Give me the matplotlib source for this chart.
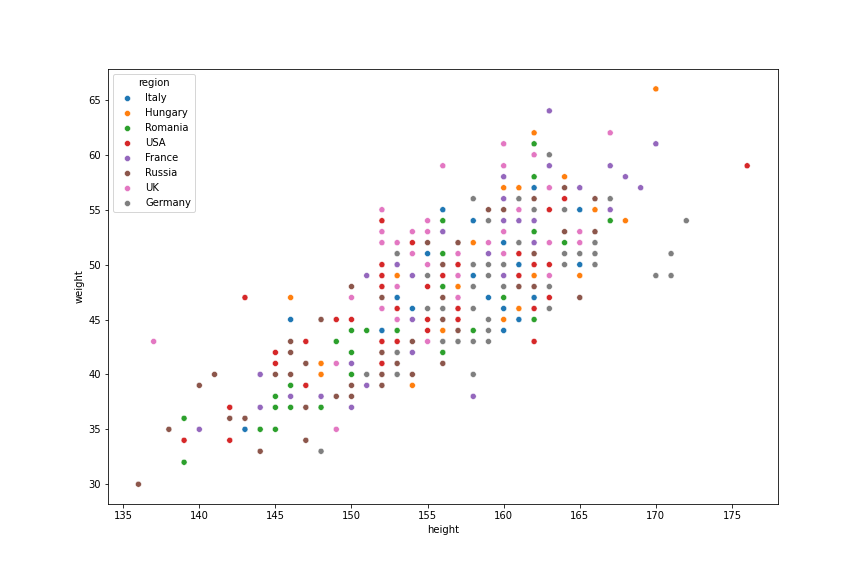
import matplotlib
matplotlib.use("Agg")
import matplotlib.pyplot as plt
import pandas as pd
import seaborn as sns

# (height, weight) points per region
italy = [(146, 45), (143, 35), (153, 47), (154, 46), (152, 44), (155, 51), (156, 55),
         (158, 54), (160, 52), (161, 50), (165, 50), (158, 49), (162, 57), (165, 55),
         (159, 47), (162, 47), (160, 46), (161, 45), (160, 44)]
hungary = [(146, 47), (148, 41), (148, 40), (154, 39), (153, 49), (156, 44), (157, 48),
           (158, 52), (160, 57), (161, 57), (164, 58), (166, 55), (162, 49), (165, 49),
           (161, 46), (160, 45), (162, 62), (170, 66), (168, 54)]
romania = [(139, 36), (139, 32), (145, 38), (145, 37), (146, 39), (146, 37), (144, 35),
           (145, 35), (148, 37), (149, 43), (150, 44), (151, 44), (153, 44), (150, 42),
           (150, 40), (156, 48), (156, 42), (156, 54), (156, 51), (162, 58), (162, 53),
           (164, 52), (167, 54), (160, 47), (162, 45), (158, 44), (162, 61)]
usa = [(143, 47), (147, 43), (145, 42), (145, 41), (147, 39), (142, 37), (142, 34),
       (139, 34), (152, 48), (155, 48), (153, 46), (157, 46), (149, 45), (150, 45),
       (155, 45), (157, 45), (155, 44), (152, 43), (153, 43), (152, 41), (152, 54),
       (154, 52), (152, 50), (157, 50), (152, 49), (156, 49), (164, 56), (163, 55),
       (161, 51), (162, 50), (163, 50), (161, 49), (163, 47), (162, 46), (162, 43),
       (176, 59)]
france = [(144, 40), (146, 38), (144, 37), (140, 35), (154, 45), (154, 42), (150, 41),
          (151, 39), (148, 38), (150, 37), (151, 49), (153, 50), (154, 49), (156, 53),
          (160, 58), (160, 56), (163, 59), (167, 59), (165, 57), (160, 54), (161, 54),
          (162, 54), (167, 55), (162, 52), (159, 51), (160, 49), (163, 64), (170, 61),
          (168, 58), (169, 57), (158, 38)]
russia = [(146, 43), (146, 42), (147, 41), (141, 40), (145, 40), (146, 40), (140, 39),
          (147, 37), (142, 36), (143, 36), (138, 35), (147, 34), (144, 33), (136, 30),
          (150, 48), (152, 47), (156, 47), (148, 45), (156, 45), (157, 44), (154, 43),
          (152, 42), (153, 41), (156, 41), (152, 40), (154, 40), (150, 39), (152, 39),
          (149, 38), (150, 38), (155, 52), (157, 52), (156, 50), (164, 57), (162, 56),
          (166, 56), (159, 55), (160, 55), (164, 53), (166, 53), (162, 51), (161, 48),
          (162, 48), (165, 47)]
uk = [(137, 43), (150, 47), (157, 47), (152, 46), (153, 45), (155, 43), (149, 41),
      (149, 35), (156, 59), (152, 55), (155, 54), (152, 53), (154, 53), (155, 53),
      (152, 52), (153, 52), (154, 51), (157, 51), (155, 50), (157, 49), (153, 48),
      (162, 60), (160, 59), (163, 57), (161, 55), (160, 53), (165, 53), (159, 52),
      (163, 52), (165, 52), (160, 51), (163, 49), (167, 62), (160, 61)]
germany = [(155, 46), (156, 46), (156, 43), (157, 43), (153, 42), (151, 40), (153, 40),
           (148, 33), (153, 51), (155, 49), (163, 60), (158, 56), (161, 56), (167, 56),
           (162, 55), (164, 55), (159, 54), (161, 52), (166, 52), (164, 51), (165, 51),
           (166, 51), (158, 50), (159, 50), (160, 50), (164, 50), (166, 50), (159, 49),
           (158, 48), (160, 48), (163, 48), (158, 46), (163, 46), (159, 45), (159, 44),
           (158, 43), (159, 43), (158, 40), (172, 54), (171, 51), (170, 49), (171, 49)]

regions = ['Italy', 'Hungary', 'Romania', 'USA', 'France', 'Russia', 'UK', 'Germany']
groups = [italy, hungary, romania, usa, france, russia, uk, germany]

rows = []
for name, pts in zip(regions, groups):
    for h, w in pts:
        rows.append({'height': h, 'weight': w, 'region': name})
df = pd.DataFrame(rows)

plt.figure(figsize=(12, 8), dpi=72)
plt.subplots_adjust(left=0.125, right=0.9, bottom=0.125, top=0.88)
ax = sns.scatterplot(data=df, x='height', y='weight', hue='region', hue_order=regions)
ax.set_xlim(134, 178)
ax.set_ylim(28.2, 67.8)
ax.legend(title='region', loc='upper left')

plt.savefig('out.png', dpi=72)
